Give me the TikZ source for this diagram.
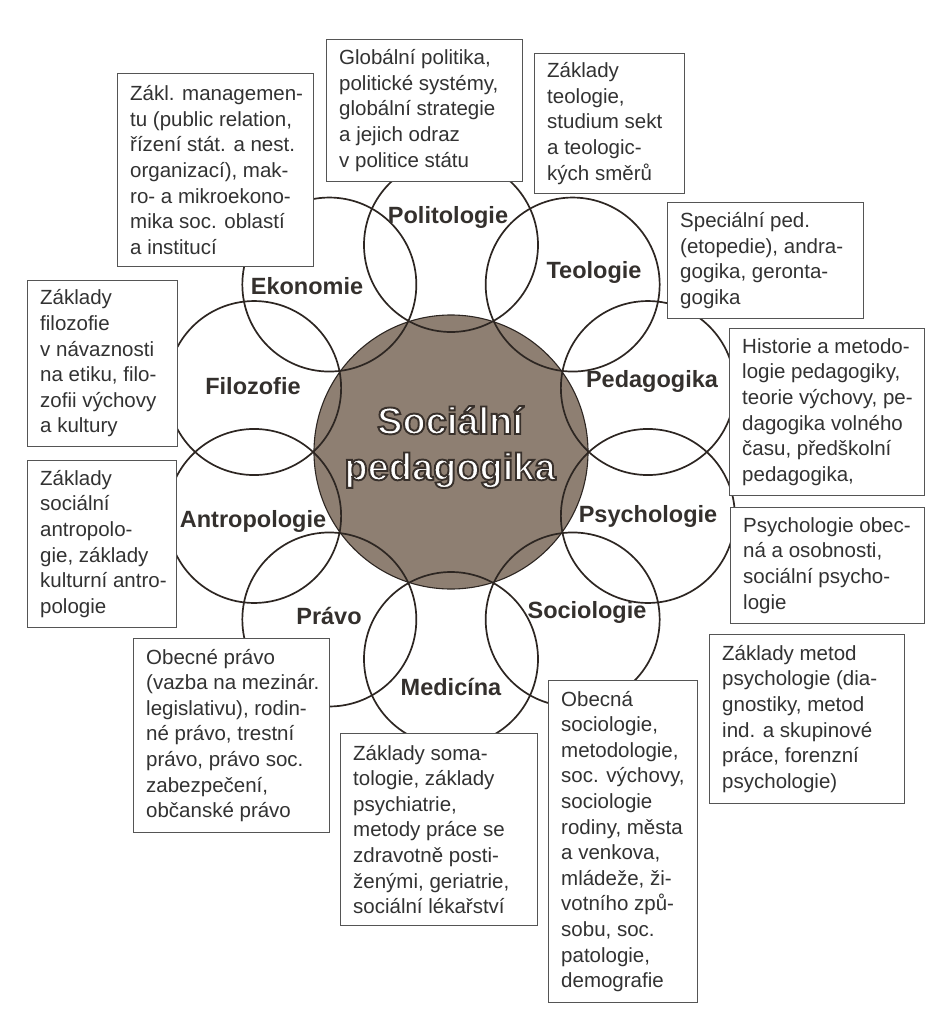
\documentclass[tikz,border=0pt]{standalone}
\usepackage{fontspec}
\setmainfont{Liberation Sans}
\usetikzlibrary{calc}
\definecolor{ringline}{RGB}{45,38,34}
\definecolor{centerfill}{RGB}{142,127,114}
\definecolor{boxline}{RGB}{85,85,85}
\definecolor{boxtxt}{RGB}{50,50,50}
\definecolor{lbltxt}{RGB}{52,48,45}
\newcommand\outlinedtext[1]{\special{pdf:literal direct 2 Tr 1.9 w 0.22 0.19 0.17 RG}#1\special{pdf:literal direct 0 Tr}}
\begin{document}
\begin{tikzpicture}[x=1pt,y=-1pt,
  ringc/.style={circle,draw=ringline,line width=1.7pt,minimum size=174pt,inner sep=0pt},
  lbl/.style={font=\fontsize{23.5}{27}\selectfont\bfseries,text=lbltxt,inner sep=0pt},
  infobox/.style={draw=boxline,line width=0.9pt,fill=white,anchor=north west,inner sep=0pt},
  infotext/.style={font=\fontsize{20.5}{25.6}\selectfont,text=boxtxt,align=left,anchor=west,inner sep=0pt},
  ctr/.style={font=\fontsize{38}{44}\selectfont\bfseries,anchor=base,inner sep=0pt,text=white}]
\fill[white] (0,0) rectangle (931,1015);
\useasboundingbox (0,0) rectangle (931,1015);
\coordinate (O) at (451,452);
% central circle
\node[circle,draw=ringline,line width=1.1pt,fill=centerfill,minimum size=274pt,inner sep=0pt] (hub) at (O) {};
% ring of circles
\foreach \n/\a in {pol/90,teo/54,ped/18,psy/-18,soc/-54,med/-90,pra/-126,ant/-162,fil/162,eko/126}{
  \node[ringc] (\n) at ($(O)+({207*cos(\a)},{-207*sin(\a)})$) {};
}
% labels
\node[lbl] (lpol) at (448,217) {Politologie};
\node[lbl] (lteo) at (594,272) {Teologie};
\node[lbl] (lped) at (652,381) {Pedagogika};
\node[lbl] (lpsy) at (648,516) {Psychologie};
\node[lbl] (lsoc) at (587,612) {Sociologie};
\node[lbl] (lmed) at (451,687) {Medicína};
\node[lbl] (lpra) at (329,616) {Právo};
\node[lbl] (lant) at (253,521) {Antropologie};
\node[lbl] (lfil) at (253,386) {Filozofie};
\node[lbl] (leko) at (307,286) {Ekonomie};
% boxes
\node[infobox,minimum width=196pt,minimum height=193pt] (beko) at (117,73) {};
\node[infotext] (teko) at ([xshift=13pt]beko.west) {Zákl. managemen-\\tu (public relation,\\řízení stát. a nest.\\organizací), mak-\\ro- a mikroekono-\\mika soc. oblastí\\a institucí};
\node[infobox,minimum width=196pt,minimum height=142pt] (bpol) at (326,39) {};
\node[infotext] (tpol) at ([xshift=13pt]bpol.west) {Globální politika,\\politické systémy,\\globální strategie\\a jejich odraz\\v politice státu};
\node[infobox,minimum width=150pt,minimum height=140pt] (bteo) at (534,53) {};
\node[infotext] (tteo) at ([xshift=13pt]bteo.west) {Základy\\teologie,\\studium sekt\\a teologic-\\kých směrů};
\node[infobox,minimum width=196pt,minimum height=116pt] (bspe) at (667,202) {};
\node[infotext] (tspe) at ([xshift=13pt]bspe.west) {Speciální ped.\\(etopedie), andra-\\gogika, geronta-\\gogika};
\node[infobox,minimum width=195pt,minimum height=167pt] (bped) at (729,328) {};
\node[infotext] (tped) at ([xshift=13pt]bped.west) {Historie a metodo-\\logie pedagogiky,\\teorie výchovy, pe-\\dagogika volného\\času, předškolní\\pedagogika,};
\node[infobox,minimum width=194pt,minimum height=116pt] (bpsy) at (730,507) {};
\node[infotext] (tpsy) at ([xshift=13pt]bpsy.west) {Psychologie obec-\\ná a osobnosti,\\sociální psycho-\\logie};
\node[infobox,minimum width=195pt,minimum height=169pt] (bmet) at (709,634) {};
\node[infotext] (tmet) at ([xshift=13pt]bmet.west) {Základy metod\\psychologie (dia-\\gnostiky, metod\\ind. a skupinové\\práce, forenzní\\psychologie)};
\node[infobox,minimum width=149pt,minimum height=322pt] (bsoc) at (548,680) {};
\node[infotext] (tsoc) at ([xshift=13pt]bsoc.west) {Obecná\\sociologie,\\metodologie,\\soc. výchovy,\\sociologie\\rodiny, města\\a venkova,\\mládeže, ži-\\votního způ-\\sobu, soc.\\patologie,\\demografie};
\node[infobox,minimum width=197pt,minimum height=192pt] (bmed) at (340,733) {};
\node[infotext] (tmed) at ([xshift=13pt]bmed.west) {Základy soma-\\tologie, základy\\psychiatrie,\\metody práce se\\zdravotně posti-\\ženými, geriatrie,\\sociální lékařství};
\node[infobox,minimum width=196pt,minimum height=194pt] (bpra) at (133,638) {};
\node[infotext] (tpra) at ([xshift=13pt]bpra.west) {Obecné právo\\(vazba na mezinár.\\legislativu), rodin-\\né právo, trestní\\právo, právo soc.\\zabezpečení,\\občanské právo};
\node[infobox,minimum width=149pt,minimum height=167pt] (bant) at (27,460) {};
\node[infotext] (tant) at ([xshift=13pt]bant.west) {Základy\\sociální\\antropolo-\\gie, základy\\kulturní antro-\\pologie};
\node[infobox,minimum width=150pt,minimum height=166pt] (bfil) at (27,280) {};
\node[infotext] (tfil) at ([xshift=13pt]bfil.west) {Základy\\filozofie\\v návaznosti\\na etiku, filo-\\zofii výchovy\\a kultury};
% central title with outline
\node[ctr] (csoc) at (450,434) {\outlinedtext{Sociální}};
\node[ctr] (cped) at (450,480) {\outlinedtext{pedagogika}};
\end{tikzpicture}
\end{document}
